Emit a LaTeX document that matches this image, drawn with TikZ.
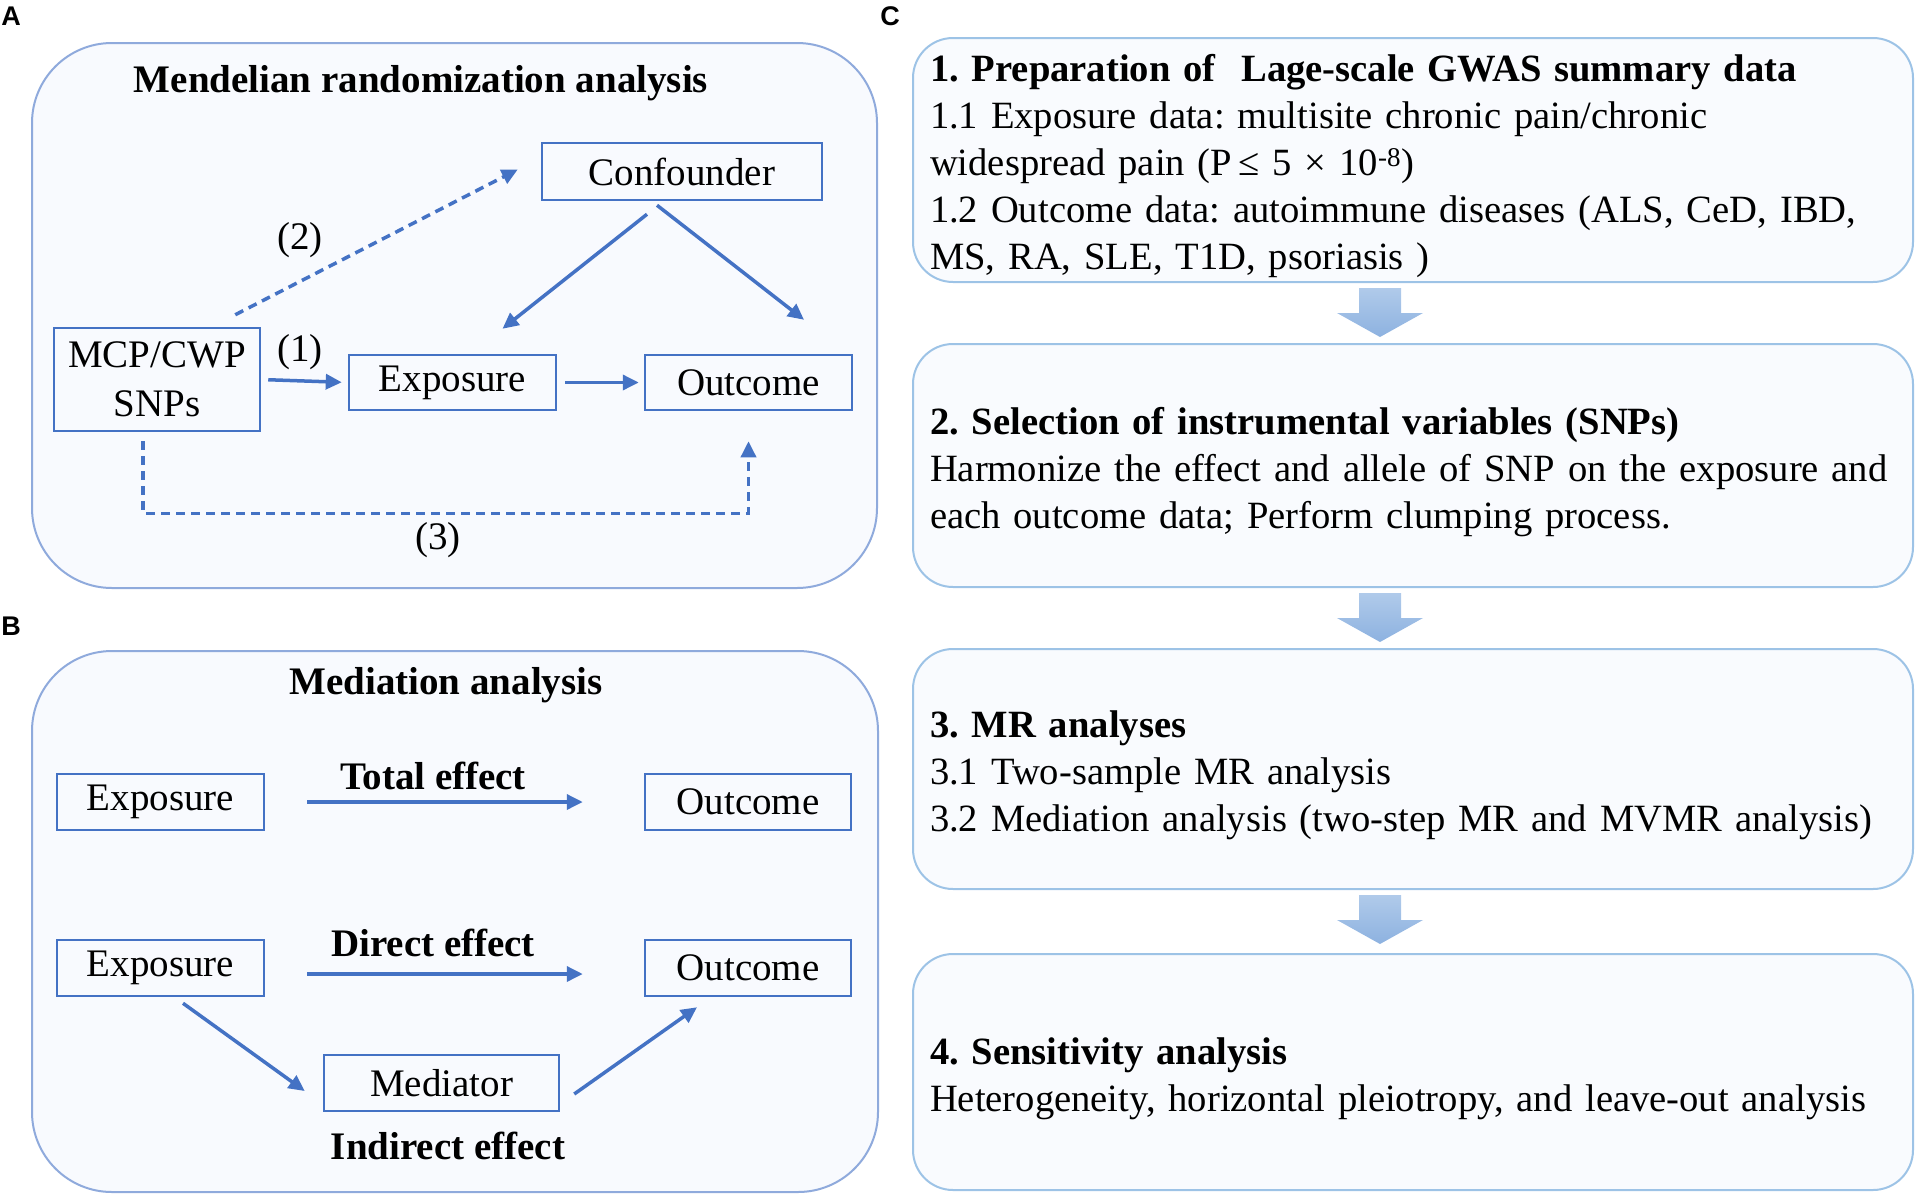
\documentclass[tikz,border=0pt]{standalone}
\usepackage{fontspec}
\setmainfont{Liberation Serif}
\newfontfamily\panelfont{Liberation Sans}
\usetikzlibrary{positioning,arrows.meta,calc}
\definecolor{mrblue}{RGB}{68,114,196}
\definecolor{panelline}{RGB}{143,170,220}
\definecolor{panelfill}{RGB}{248,250,254}
\definecolor{stepline}{RGB}{157,195,230}
\definecolor{stepfill}{RGB}{249,251,254}
\definecolor{arrowtop}{RGB}{176,202,234}
\definecolor{arrowbottom}{RGB}{141,178,224}
\frenchspacing

\begin{document}
\begin{tikzpicture}[x=1pt, y=-1pt,
    font=\fontsize{39}{46.5}\selectfont,
    panel/.style={draw=panelline, line width=2pt, fill=panelfill, rounded corners=80pt},
    varbox/.style={rectangle, draw=mrblue, line width=2.5pt, inner sep=0pt, align=center},
    flowbox/.style={rectangle, draw=stepline, line width=2pt, fill=stepfill, rounded corners=40pt,
        minimum width=1000pt, text width=966pt, inner xsep=17pt, align=left,
        font=\fontsize{38.6}{47}\selectfont, execute at begin node={\rule{0pt}{40pt}}},
    link/.style={draw=mrblue, line width=3.5pt, -{Triangle[length=16pt,width=15pt]}},
    dashlink/.style={link, dash pattern=on 9pt off 6pt},
    panellabel/.style={font=\panelfont\bfseries\fontsize{27}{27}\selectfont}
]
\useasboundingbox (0,0) rectangle (1915,1194);

% panel A
\draw[panel] (32,43) rectangle (877,588);
\node[panellabel] (labA) at (11,16) {A};
\node[font=\fontsize{39}{46.5}\selectfont\bfseries] (titleA) at (421,83) {Mendelian randomization analysis};

\node[varbox, minimum width=280pt, minimum height=57pt] (conf) at (682,171.5) {Confounder};
\node[varbox, minimum width=206pt, minimum height=103pt] (snp) at (157,379.5) {MCP/CWP\\[3pt]SNPs};
\node[varbox, minimum width=207pt, minimum height=55pt] (expA) at (452.5,382.5) {Exposure};
\node[varbox, minimum width=207pt, minimum height=55pt] (outA) at (748.5,382.5) {Outcome};

\node (one) at (300,352) {(1)};
\node (two) at (300,240) {(2)};
\node (three) at (438,540) {(3)};

\draw[link, shorten <=7pt, shorten >=6pt] (snp.east) -- (expA.west);
\draw[link, shorten <=8pt, shorten >=5pt] (expA.east) -- (outA.west);
\draw[dashlink] ([xshift=-26pt,yshift=12pt]snp.north east) -- ([xshift=-23pt,yshift=2pt]conf.west);
\draw[link] ([xshift=-35pt,yshift=-13pt]conf.south) -- ([xshift=50pt,yshift=25pt]expA.north);
\draw[link] ([xshift=-25pt,yshift=-4pt]conf.south) -- ([xshift=55.5pt,yshift=34pt]outA.north);
\draw[dashlink] ([xshift=-14pt,yshift=-9pt]snp.south) |- ([yshift=-102pt]outA.south) -- ([yshift=-30pt]outA.south);

% panel B
\draw[panel] (32,651) rectangle (878,1192);
\node[panellabel] (labB) at (11,626) {B};
\node[font=\fontsize{39}{46.5}\selectfont\bfseries] (titleB) at (446,685) {Mediation analysis};

\node[varbox, minimum width=207pt, minimum height=56pt] (expB) at (160.5,802) {Exposure};
\node[varbox, minimum width=206pt, minimum height=56pt] (outB) at (748,802) {Outcome};
\node[varbox, minimum width=207pt, minimum height=56pt] (expC) at (160.5,968) {Exposure};
\node[varbox, minimum width=206pt, minimum height=56pt] (outC) at (748,968) {Outcome};
\node[varbox, minimum width=235pt, minimum height=56pt] (med) at (441.5,1083) {Mediator};

\node[font=\fontsize{39}{46.5}\selectfont\bfseries] (total) at (433,776) {Total effect};
\node[font=\fontsize{39}{46.5}\selectfont\bfseries] (direct) at (433,943) {Direct effect};
\node[font=\fontsize{39}{46.5}\selectfont\bfseries] (indirect) at (448,1146) {Indirect effect};

\draw[link, shorten <=42pt, shorten >=61pt] (expB.east) -- (outB.west);
\draw[link, shorten <=42pt, shorten >=61pt] ([yshift=-6pt]expC.east) -- ([yshift=-6pt]outC.west);
\draw[link] ([xshift=22.5pt,yshift=-6pt]expC.south) -- ([xshift=-18pt,yshift=-8pt]med.west);
\draw[link] ([xshift=14pt,yshift=-11pt]med.east) -- ([xshift=-51pt,yshift=-10pt]outC.south);

% panel C
\node[panellabel] (labC) at (890,16) {C};

\node[flowbox, minimum height=244pt] (prep) at (1413,160) {%
    \textbf{1. Preparation of\ \ Lage-scale GWAS summary data}\\
    1.1 Exposure data: multisite chronic pain/chronic\\
    widespread pain (P\,≤ 5 × 10\textsuperscript{-8})\\
    1.2 Outcome data: autoimmune diseases (ALS, CeD, IBD,\\
    MS, RA, SLE, T1D, psoriasis )};
\node[flowbox, minimum height=243pt] (ivsel) at (1413,465.5) {%
    \textbf{2. Selection of instrumental variables (SNPs)}\\
    Harmonize the effect and allele of SNP on the exposure and\\
    each outcome data; Perform clumping process.};
\node[flowbox, minimum height=240pt] (mrana) at (1413,769) {%
    \textbf{3. MR analyses}\\
    3.1 Two-sample MR analysis\\
    3.2 Mediation analysis (two-step MR and MVMR analysis)};
\node[flowbox, minimum height=236pt] (sens) at (1413,1072) {%
    \textbf{4. Sensitivity analysis}\\
    Heterogeneity, horizontal pleiotropy, and leave-out analysis};

\foreach \from in {prep,ivsel,mrana}
    \shade[top color=arrowtop, bottom color=arrowbottom]
        ([xshift=-33pt,yshift=-5pt]\from.south) ++(-21,0) -- ++(42,0) -- ++(0,25) -- ++(22,0)
        -- ++(-43,24) -- ++(-43,-24) -- ++(22,0) -- cycle;
\end{tikzpicture}
\end{document}
